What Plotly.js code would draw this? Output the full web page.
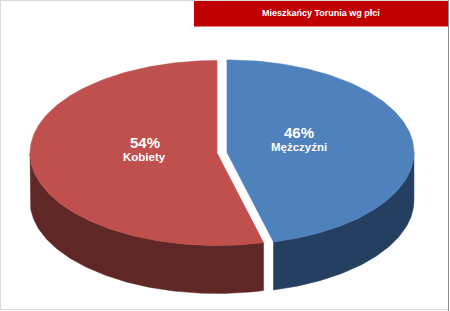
<!DOCTYPE html>
<html>
<head>
<meta charset="utf-8">
<script src="https://cdn.plot.ly/plotly-3.0.1.min.js"></script>
<style>html,body{margin:0;padding:0;background:#fff;}#chart{width:450px;height:311px;}</style>
</head>
<body>
<div id="chart"></div>
<script>
// ---- data ----
const chartTitle = "Mieszkańcy Torunia wg płci";
const categories = ["Mężczyźni", "Kobiety"];
const values = [46, 54];
const topColors = ["#4F81BD", "#C0504D"];
const sideColors = ["#253F60", "#5F2826"];

// ---- 3D pie geometry (pixel-mapped axes) ----
const W = 450, H = 311;
const cx = 222, cy = 152.7, rx = 187, ry = 92.5, depth = 48, explode = 5;
const total = values.reduce((a, b) => a + b, 0);
const deg = Math.PI / 180;

function rim(ox, oy, theta, dy) {
  return [ox + rx * Math.sin(theta), oy - ry * Math.cos(theta) + (dy || 0)];
}
function arc(ox, oy, a0, a1, dy) {
  const n = Math.max(2, Math.ceil(Math.abs(a1 - a0) / (1 * deg)));
  const pts = [];
  for (let i = 0; i <= n; i++) pts.push(rim(ox, oy, a0 + (a1 - a0) * i / n, dy));
  return pts;
}

const slices = [];
let start = 0;
values.forEach((v, i) => {
  const a0 = start, a1 = start + v / total * 2 * Math.PI;
  start = a1;
  const mid = (a0 + a1) / 2;
  const ox = cx + explode * Math.sin(mid);
  const oy = cy - explode * (ry / rx) * Math.cos(mid);
  slices.push({ i, a0, a1, mid, ox, oy });
});

const sideTraces = [], topTraces = [];
slices.forEach(s => {
  // visible side wall: front half (90deg..270deg)
  const v0 = Math.max(s.a0, 90 * deg), v1 = Math.min(s.a1, 270 * deg);
  if (v1 > v0) {
    const top = arc(s.ox, s.oy, v0, v1, 0);
    const bot = arc(s.ox, s.oy, v1, v0, depth);
    const pts = top.concat(bot);
    pts.push(pts[0]);
    sideTraces.push({
      type: "scatter", mode: "lines", fill: "toself",
      x: pts.map(p => p[0]), y: pts.map(p => p[1]),
      fillcolor: sideColors[s.i], line: { color: sideColors[s.i], width: 0.5 },
      hoverinfo: "skip", showlegend: false
    });
  }
  const pts = [[s.ox, s.oy]].concat(arc(s.ox, s.oy, s.a0, s.a1, 0));
  pts.push([s.ox, s.oy]);
  topTraces.push({
    type: "scatter", mode: "lines", fill: "toself",
    x: pts.map(p => p[0]), y: pts.map(p => p[1]),
    fillcolor: topColors[s.i], line: { color: topColors[s.i], width: 0.5 },
    hoverinfo: "skip", showlegend: false
  });
});

// labels
const annotations = [];
slices.forEach(s => {
  const f = 0.39;
  const lx = s.ox + f * rx * Math.sin(s.mid);
  const ly = s.oy - f * ry * Math.cos(s.mid) - 8;
  annotations.push({
    x: lx, y: ly - 7, xref: "x", yref: "y", showarrow: false,
    text: "<b>" + values[s.i] + "%</b>",
    font: { family: "Liberation Sans, Arial, sans-serif", size: 15, color: "#ffffff" },
    xanchor: "center", yanchor: "middle"
  });
  annotations.push({
    x: lx, y: ly + 7.5, xref: "x", yref: "y", showarrow: false,
    text: "<b>" + categories[s.i] + "</b>",
    font: { family: "Liberation Sans, Arial, sans-serif", size: 11.5, color: "#ffffff" },
    xanchor: "center", yanchor: "middle"
  });
});
annotations.push({
  x: 321, y: 13, xref: "x", yref: "y", showarrow: false,
  text: "<b>" + chartTitle + "</b>",
  font: { family: "Liberation Sans, Arial, sans-serif", size: 9, color: "#ffffff" },
  xanchor: "center", yanchor: "middle"
});

const shapes = [
  { type: "rect", xref: "x", yref: "y", x0: 194, x1: 448, y0: 0, y1: 26.5,
    fillcolor: "#C00000", line: { width: 0 }, layer: "below" },
  { type: "line", xref: "x", yref: "y", x0: 0.5, x1: 0.5, y0: 0, y1: 310,
    line: { color: "#DADADA", width: 1 } },
  { type: "line", xref: "x", yref: "y", x0: 0, x1: 448, y0: 0.5, y1: 0.5,
    line: { color: "#DADADA", width: 1 } },
  { type: "line", xref: "x", yref: "y", x0: 0, x1: 448, y0: 309.5, y1: 309.5,
    line: { color: "#DADADA", width: 1 } },
  { type: "line", xref: "x", yref: "y", x0: 448.5, x1: 448.5, y0: 0, y1: 311,
    line: { color: "#8C8C8C", width: 1 } }
];

const layout = {
  width: W, height: H,
  margin: { l: 0, r: 0, t: 0, b: 0 },
  paper_bgcolor: "#ffffff", plot_bgcolor: "#ffffff",
  xaxis: { range: [0, W], visible: false, fixedrange: true },
  yaxis: { range: [H, 0], visible: false, fixedrange: true },
  showlegend: false,
  shapes, annotations
};

Plotly.newPlot("chart", sideTraces.concat(topTraces), layout, { staticPlot: true, displayModeBar: false });
</script>
</body>
</html>
